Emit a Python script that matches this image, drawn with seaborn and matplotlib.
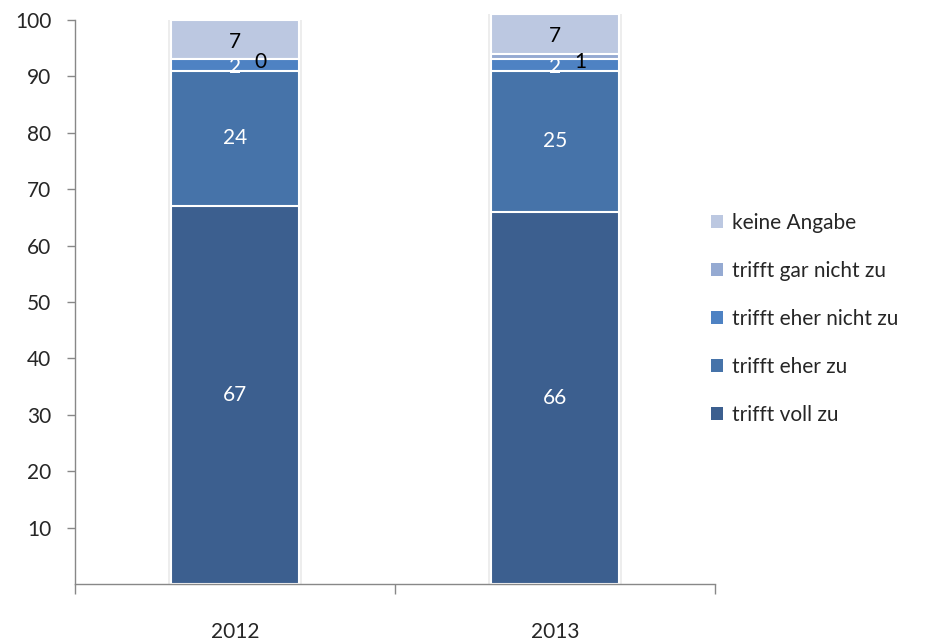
import pandas as pd
import numpy as np
import matplotlib
matplotlib.use("Agg")
import matplotlib.pyplot as plt
from matplotlib.patches import Patch
import seaborn as sns

# === Daten ===
jahre = ["2012", "2013"]
kategorien = ["trifft voll zu", "trifft eher zu", "trifft eher nicht zu",
              "trifft gar nicht zu", "keine Angabe"]
werte_2012 = [67, 24, 2, 0, 7]
werte_2013 = [66, 25, 2, 1, 7]
farben = ["#3C5F8F", "#4673A9", "#4E82C3", "#95AAD2", "#BCC8E1"]
label_farben = ["white", "white", "white", "black", "black"]

sns.set_style("white")
plt.rcParams['font.family'] = ['Lato', 'DejaVu Sans']

df = pd.DataFrame({"Jahr": jahre})
for k, a, b in zip(kategorien, werte_2012, werte_2013):
    df[k] = [a, b]
cum = df[kategorien].cumsum(axis=1)

fig = plt.figure(figsize=(9.29, 6.4), dpi=100)
ax = fig.add_axes([0.0807, 0.0875, 0.689, 0.88125])

# leichter Schatten hinter den Saeulen
sns.barplot(x=df["Jahr"], y=cum[kategorien[-1]], color="#EDEDED", width=0.418,
            ax=ax, saturation=1, edgecolor="none")

# gestapelt: von oben nach unten ueberlagern
for i in range(len(kategorien) - 1, -1, -1):
    sns.barplot(x=df["Jahr"], y=cum[kategorien[i]], color=farben[i], width=0.4,
                ax=ax, saturation=1, edgecolor="white", linewidth=1.5)

for p in ax.patches:
    p.set_clip_on(False)

# Beschriftungen
for j in range(len(jahre)):
    unten = 0
    for i, k in enumerate(kategorien):
        v = df.loc[j, k]
        y = unten + v / 2
        x = j
        if i == 3:
            x = j + 0.08
            y = unten - 0.4
        elif i == 4:
            y = unten + v / 2 - 0.4
        elif i == 2:
            y = unten + v / 2 - 0.3
        ax.text(x, y, f"{v}", ha="center", va="center", fontsize=15,
                color=label_farben[i])
        unten += v

ax.set_ylim(0, 100)
ax.set_xlim(-0.5, 1.5)
ax.set_yticks(range(10, 101, 10))
ax.set_xlabel("")
ax.set_ylabel("")
ax.tick_params(axis="y", which="major", direction="out", length=6, width=1,
               color="#888888", labelsize=15, pad=11, left=True)
ax.tick_params(axis="x", which="major", length=0, labelsize=15, pad=27)
ax.set_xticks([-0.5, 0.5, 1.5], minor=True)
ax.tick_params(axis="x", which="minor", direction="out", length=7, width=1,
               color="#888888", bottom=True)
for s in ["top", "right"]:
    ax.spines[s].set_visible(False)
for s in ["left", "bottom"]:
    ax.spines[s].set_color("#888888")
    ax.spines[s].set_linewidth(1)

handles = [Patch(facecolor=farben[i], edgecolor="none", label=kategorien[i])
           for i in range(len(kategorien) - 1, -1, -1)]
fig.legend(handles=handles, loc="center left", bbox_to_anchor=(0.745, 0.5016),
           frameon=False, fontsize=15, handlelength=0.6, handleheight=0.6,
           handletextpad=0.4, labelspacing=1.35)

fig.savefig("out.png", dpi=100)
